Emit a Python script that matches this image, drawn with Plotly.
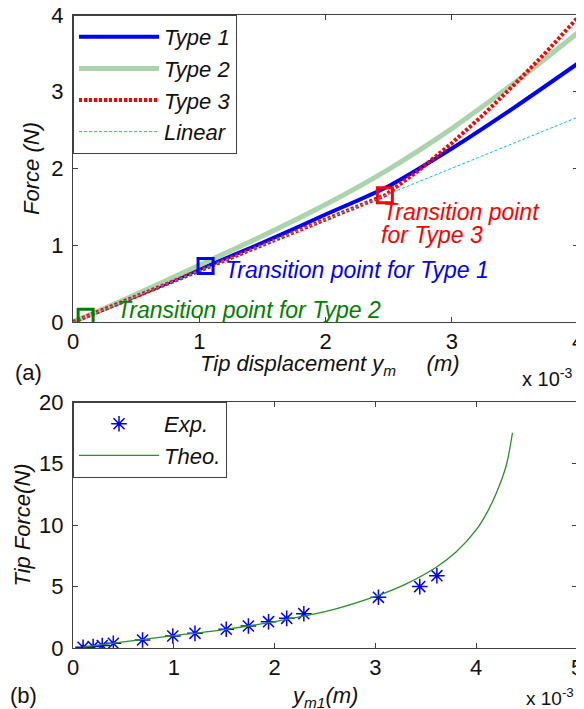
import plotly.graph_objects as go

# The page body has an 8px margin, so the figure is 8px smaller on each axis
# and every reference pixel position is shifted by that margin.
OFF = 8
FW, FH = 584 - OFF, 709 - OFF
FONT = "Liberation Sans, Arial, sans-serif"


def PX(x):
    return (x - OFF) / FW


def PY(y):
    return 1 - (y - OFF) / FH


# ---------- Panel (a): force vs tip displacement (x in units of 1e-3 m) ----------
type1_x = [0, 0.5, 1.05, 1.5, 2.0, 2.5, 3.0, 3.5, 4.0]
type1_y = [0, 0.34, 0.72, 1.03, 1.40, 1.77, 2.26, 2.80, 3.37]
type2_x = [0, 0.1, 0.5, 1.0, 1.5, 2.0, 2.5, 3.0, 3.5, 4.0]
type2_y = [0, 0.07, 0.36, 0.74, 1.12, 1.53, 1.99, 2.52, 3.12, 3.77]
type3_x = [0, 1.0, 2.0, 2.47, 2.75, 3.0, 3.25, 3.5, 3.75, 4.0]
type3_y = [0, 0.67, 1.33, 1.65, 1.99, 2.33, 2.70, 3.10, 3.52, 3.97]
linear_x = [0, 4.0]
linear_y = [0, 2.67]

trans1 = (1.05, 0.73)
trans2 = (0.10, 0.07)
trans3 = (2.47, 1.65)

# ---------- Panel (b): tip force vs y_m1 ----------
exp_x = [0.10, 0.20, 0.29, 0.40, 0.69, 0.99, 1.21, 1.52, 1.74, 1.94, 2.12, 2.29, 3.03, 3.44, 3.61]
exp_y = [0.06, 0.12, 0.20, 0.38, 0.65, 0.98, 1.19, 1.52, 1.79, 2.14, 2.41, 2.79, 4.12, 4.99, 5.88]
theo_x = [0.10, 0.5, 1.0, 1.5, 2.0, 2.5, 3.0, 3.3, 3.6, 3.8, 4.0, 4.1, 4.2, 4.3, 4.36]
theo_y = [0.08, 0.5, 1.0, 1.5, 2.15, 2.95, 4.2, 5.2, 6.55, 7.8, 9.6, 10.9, 12.6, 14.9, 17.5]

xticks_a = [0, 1, 2, 3, 4]
yticks_a = [0, 1, 2, 3, 4]
xticks_b = [0, 1, 2, 3, 4, 5]
yticks_b = [0, 5, 10, 15, 20]

BLUE = "rgb(0,0,255)"
PALE_GREEN = "rgb(172,212,172)"
RED = "rgb(255,0,0)"
CYAN = "rgb(0,200,215)"
GREEN = "rgb(0,128,0)"
THEO_GREEN = "rgb(40,145,40)"
AXC = "#404040"
TXT = "#111"

fig = go.Figure()

fig.add_trace(go.Scatter(x=type1_x, y=type1_y, mode="lines", name="<i>Type 1</i>",
                         line=dict(color=BLUE, width=4, shape="spline", smoothing=0.6),
                         xaxis="x", yaxis="y", legend="legend"))
fig.add_trace(go.Scatter(x=type2_x, y=type2_y, mode="lines", name="<i>Type 2</i>",
                         line=dict(color=PALE_GREEN, width=5, shape="spline", smoothing=0.6),
                         xaxis="x", yaxis="y", legend="legend"))
fig.add_trace(go.Scatter(x=type3_x, y=type3_y, mode="lines", name="<i>Type 3</i>",
                         line=dict(color=RED, width=4, dash="3px,2px"),
                         xaxis="x", yaxis="y", legend="legend"))
fig.add_trace(go.Scatter(x=linear_x, y=linear_y, mode="lines", name="<i>Linear</i>",
                         line=dict(color=CYAN, width=1, dash="3px,2px"),
                         xaxis="x", yaxis="y", legend="legend"))

for (tx, ty), col in [(trans1, BLUE), (trans2, GREEN), (trans3, RED)]:
    fig.add_trace(go.Scatter(x=[tx], y=[ty], mode="markers", showlegend=False,
                             marker=dict(symbol="square-open", size=15, color=col,
                                         line=dict(color=col, width=3)),
                             xaxis="x", yaxis="y"))

fig.add_trace(go.Scatter(x=exp_x, y=exp_y, mode="markers", name="<i>Exp.</i>",
                         marker=dict(symbol="asterisk-open", size=13, color=BLUE,
                                     line=dict(color=BLUE, width=1.5)),
                         xaxis="x2", yaxis="y2", legend="legend2"))
fig.add_trace(go.Scatter(x=theo_x, y=theo_y, mode="lines", name="<i>Theo.</i>",
                         line=dict(color=THEO_GREEN, width=1.3, shape="spline", smoothing=0.8),
                         xaxis="x2", yaxis="y2", legend="legend2"))

axis_common = dict(showline=True, linecolor=AXC, linewidth=1, mirror="ticks",
                   ticks="inside", ticklen=5, tickcolor=AXC, showgrid=False,
                   zeroline=False, automargin=False, ticklabeloverflow="allow",
                   tickfont=dict(family=FONT, size=22, color=TXT))

title_font = dict(family=FONT, size=22, color=TXT, style="italic")
legend_common = dict(xanchor="left", yanchor="top", bgcolor="white", bordercolor=AXC,
                     borderwidth=1, font=dict(family=FONT, size=22, color=TXT),
                     itemwidth=80, tracegroupgap=0)

fig.update_layout(
    width=FW, height=FH, margin=dict(l=0, r=0, t=0, b=0, autoexpand=False),
    paper_bgcolor="white", plot_bgcolor="white",
    font=dict(family=FONT, size=22, color=TXT),
    xaxis=dict(domain=[PX(73), PX(578)], anchor="y", range=[0, 4], tickvals=xticks_a,
               ticklabelstandoff=0, **axis_common),
    yaxis=dict(domain=[PY(322), PY(15)], anchor="x", range=[0, 4], tickvals=yticks_a,
               ticklabelstandoff=4,
               title=dict(text="Force (N)", font=title_font, standoff=5),
               **axis_common),
    xaxis2=dict(domain=[PX(73), PX(577)], anchor="y2", range=[0, 5], tickvals=xticks_b,
                ticklabelstandoff=0, **axis_common),
    yaxis2=dict(domain=[PY(648), PY(402)], anchor="x2", range=[0, 20], tickvals=yticks_b,
                ticklabelstandoff=4,
                title=dict(text="Tip Force(N)", font=title_font, standoff=2),
                **axis_common),
    legend=dict(x=PX(73), y=PY(15), **legend_common),
    legend2=dict(x=PX(73), y=PY(402), **legend_common),
)

# x-axis titles (placed as annotations so they can sit tight under the tick labels)
fig.add_annotation(x=PX(198), y=PY(365), xref="paper", yref="paper",
                   xanchor="left", yanchor="middle",
                   text="<i>Tip displacement y<sub>m</sub>" + "&nbsp;" * 5 + "(m)</i>",
                   showarrow=False, font=dict(family=FONT, size=22, color=TXT))
fig.add_annotation(x=PX(324), y=PY(697), xref="paper", yref="paper",
                   xanchor="center", yanchor="middle",
                   text="<i>y<sub>m1</sub>(m)</i>",
                   showarrow=False, font=dict(family=FONT, size=22, color=TXT))

ann_font = dict(family=FONT, size=23, style="italic")
fig.add_annotation(x=1.19, y=0.68, xref="x", yref="y", xanchor="left", yanchor="middle",
                   text="Transition point for Type 1", showarrow=False,
                   font=dict(color=BLUE, **ann_font))
fig.add_annotation(x=0.33, y=0.16, xref="x", yref="y", xanchor="left", yanchor="middle",
                   text="Transition point for Type 2", showarrow=False,
                   font=dict(color=GREEN, **ann_font))
fig.add_annotation(x=2.44, y=1.43, xref="x", yref="y", xanchor="left", yanchor="middle",
                   text="Transition point", showarrow=False,
                   font=dict(color=RED, **ann_font))
fig.add_annotation(x=2.42, y=1.14, xref="x", yref="y", xanchor="left", yanchor="middle",
                   text="for Type 3", showarrow=False,
                   font=dict(color=RED, **ann_font))

# exponent labels and panel letters
fig.add_annotation(x=PX(574), y=PY(378), xref="paper", yref="paper",
                   xanchor="right", yanchor="middle", text="x 10<sup>-3</sup>",
                   showarrow=False, font=dict(family=FONT, size=20, color=TXT))
fig.add_annotation(x=PX(576), y=PY(697), xref="paper", yref="paper",
                   xanchor="right", yanchor="middle", text="x 10<sup>-3</sup>",
                   showarrow=False, font=dict(family=FONT, size=19, color=TXT))
fig.add_annotation(x=PX(13), y=PY(372), xref="paper", yref="paper",
                   xanchor="left", yanchor="middle", text="(a)",
                   showarrow=False, font=dict(family=FONT, size=22, color=TXT))
fig.add_annotation(x=PX(8), y=PY(695), xref="paper", yref="paper",
                   xanchor="left", yanchor="middle", text="(b)",
                   showarrow=False, font=dict(family=FONT, size=22, color=TXT))

fig.write_html("out.html")
